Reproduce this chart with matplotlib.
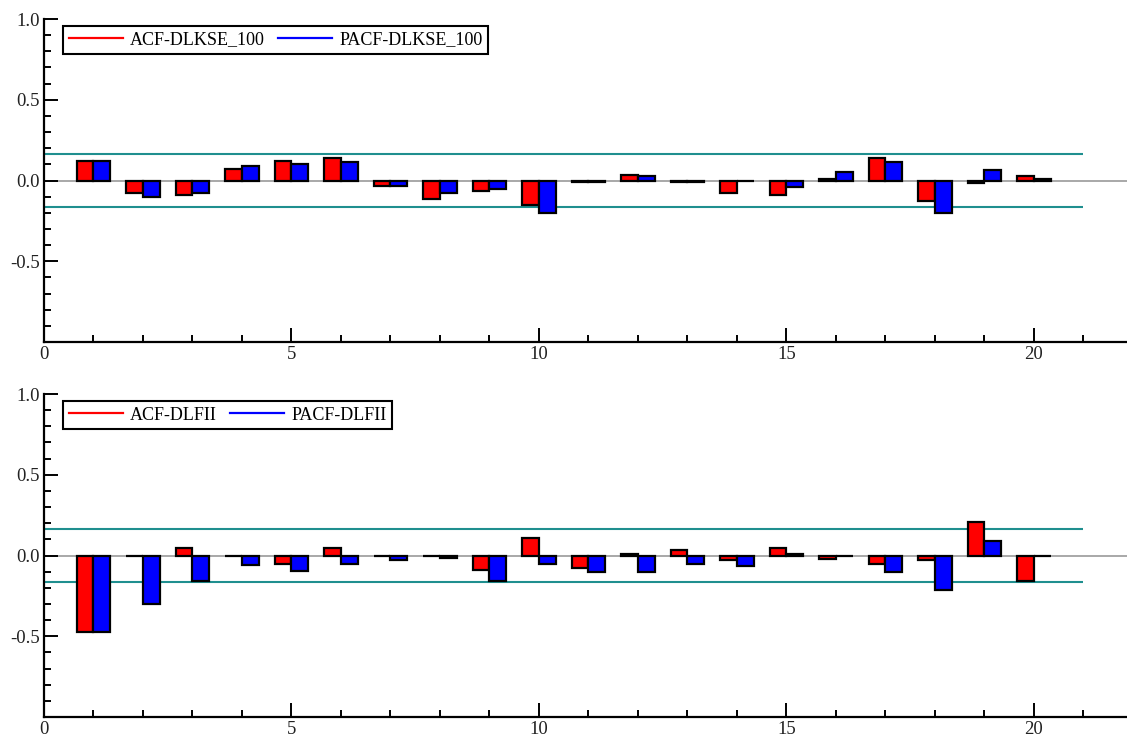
import matplotlib
matplotlib.use("Agg")
import matplotlib.pyplot as plt
from matplotlib.lines import Line2D
from matplotlib.ticker import MultipleLocator
import numpy as np

lags = list(range(1, 21))

acf_dlkse = [0.122, -0.077, -0.089, 0.072, 0.122, 0.137, -0.037, -0.116, -0.066, -0.153,
             -0.010, 0.037, -0.010, -0.079, -0.089, 0.012, 0.137, -0.126, -0.017, 0.027]
pacf_dlkse = [0.122, -0.101, -0.077, 0.089, 0.101, 0.112, -0.037, -0.077, -0.054, -0.200,
              -0.010, 0.027, -0.010, -0.002, -0.039, 0.050, 0.112, -0.200, 0.062, 0.010]

acf_dlfii = [-0.474, -0.003, 0.047, -0.002, -0.054, 0.047, -0.002, -0.003, -0.091, 0.109,
             -0.078, 0.012, 0.037, -0.029, 0.047, -0.019, -0.054, -0.029, 0.208, -0.155]
pacf_dlfii = [-0.474, -0.303, -0.155, -0.056, -0.093, -0.054, -0.029, -0.014, -0.155, -0.054,
              -0.105, -0.105, -0.054, -0.068, 0.012, -0.004, -0.105, -0.216, 0.087, -0.004]

conf_band = 0.167
panels = [
    ("ACF-DLKSE_100", "PACF-DLKSE_100", acf_dlkse, pacf_dlkse),
    ("ACF-DLFII", "PACF-DLFII", acf_dlfii, pacf_dlfii),
]

plt.rcParams['font.family'] = ['Liberation Serif', 'DejaVu Serif']

fig = plt.figure(figsize=(11.27, 7.42), dpi=100)
W, H = 1127, 742
axes_px = [(44, 19, 342), (44, 394, 717)]  # left, top, bottom in pixels

teal = '#1f8f8f'
bw = 0.34
for (lab_a, lab_p, acf, pacf), (lp, tp, bp) in zip(panels, axes_px):
    ax = fig.add_axes([lp / W, 1 - bp / H, 1 - lp / W, (bp - tp) / H])
    x = np.array(lags)
    ax.axhline(0, color='#999999', lw=1.2, zorder=1)
    ax.bar(x - bw, acf, width=bw, align='edge', color='#ff0000', edgecolor='black', lw=1.6, zorder=3)
    ax.bar(x, pacf, width=bw, align='edge', color='#0000ff', edgecolor='black', lw=1.6, zorder=3)
    ax.hlines([conf_band, -conf_band], 0, 21, color=teal, lw=1.5, zorder=2)
    ax.set_xlim(0, 21.88)
    ax.set_ylim(-1.0, 1.0)
    for s in ['top', 'right']:
        ax.spines[s].set_visible(False)
    for s in ['left', 'bottom']:
        ax.spines[s].set_linewidth(1.6)
    ax.xaxis.set_major_locator(MultipleLocator(5))
    ax.xaxis.set_minor_locator(MultipleLocator(1))
    ax.set_yticks([-0.5, 0.0, 0.5, 1.0])
    ax.yaxis.set_minor_locator(MultipleLocator(0.1))
    ax.tick_params(which='both', direction='in', colors='black', labelcolor='#222222',
                   labelsize=13.5, width=1.4)
    ax.tick_params(which='major', length=10)
    ax.tick_params(which='minor', length=5)
    ax.tick_params(axis='x', pad=3)
    ax.tick_params(axis='y', pad=3)
    ax.set_yticklabels(['-0.5', '0.0', '0.5', '1.0'])
    handles = [Line2D([], [], color='#ff0000', lw=1.6), Line2D([], [], color='#0000ff', lw=1.6)]
    leg = ax.legend(handles, [lab_a, lab_p], ncol=2, loc='upper left',
                    bbox_to_anchor=(0.018, 0.978), borderaxespad=0, fancybox=False,
                    edgecolor='black', framealpha=1, fontsize=13, handlelength=3,
                    handletextpad=0.4, columnspacing=0.7, borderpad=0.3)
    leg.get_frame().set_linewidth(1.5)

fig.savefig('out.png', dpi=100)
